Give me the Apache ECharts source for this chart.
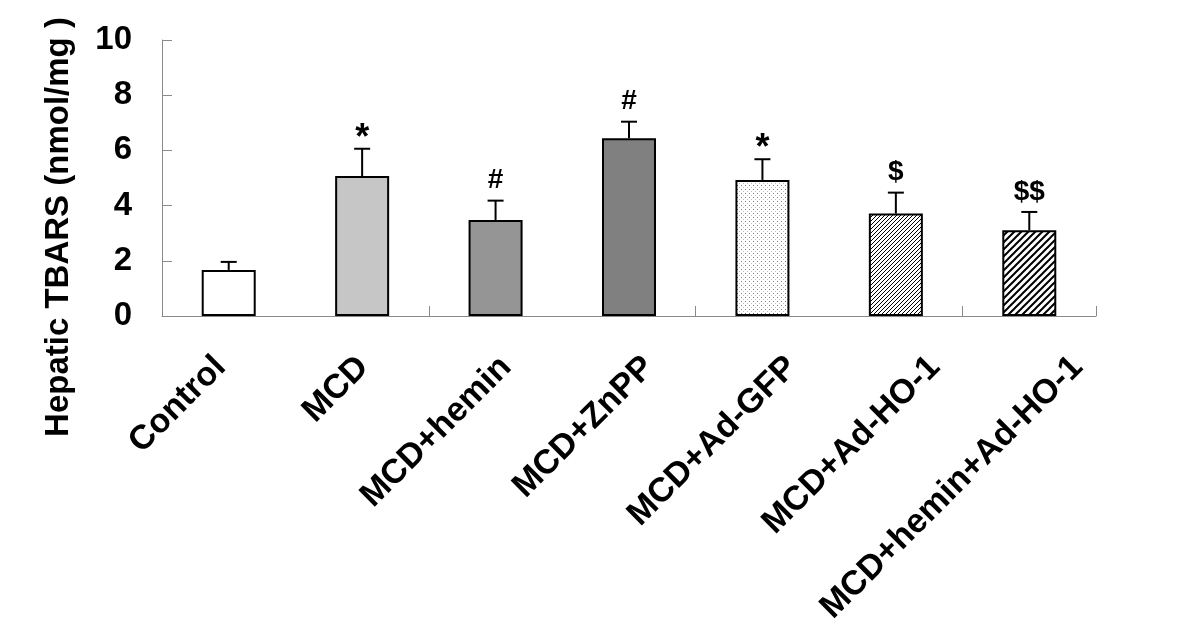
<!DOCTYPE html>
<html>
<head>
<meta charset="utf-8">
<script src="https://cdn.jsdelivr.net/npm/echarts@6/dist/echarts.min.js"></script>
<style>
  html, body { margin: 0; padding: 0; background: #fff; }
  #chart { width: 1200px; height: 640px; }
</style>
</head>
<body>
<div id="chart"></div>
<script>
// ---- data ----
const categories = ['Control', 'MCD', 'MCD+hemin', 'MCD+ZnPP', 'MCD+Ad-GFP', 'MCD+Ad-HO-1', 'MCD+hemin+Ad-HO-1'];
const means = [1.67, 5.07, 3.48, 6.44, 4.93, 3.71, 3.11];
const errors = [0.29, 0.99, 0.70, 0.60, 0.75, 0.76, 0.66];
const marks = ['', '*', '#', '#', '*', '$', '$$'];
const yMin = 0, yMax = 10, yStep = 2;
const yName = 'Hepatic TBARS (nmol/mg )';

// ---- patterns ----
function dotPattern() {
  const c = document.createElement('canvas');
  c.width = 4; c.height = 4;
  const g = c.getContext('2d');
  g.fillStyle = '#ffffff'; g.fillRect(0, 0, 4, 4);
  g.fillStyle = '#7a7a7a'; g.fillRect(1, 1, 1, 1);
  g.fillStyle = '#bdbdbd'; g.fillRect(3, 3, 1, 1);
  return { image: c, repeat: 'repeat' };
}
function hatchPattern(size, lw) {
  const c = document.createElement('canvas');
  c.width = size; c.height = size;
  const g = c.getContext('2d');
  g.fillStyle = '#ffffff'; g.fillRect(0, 0, size, size);
  g.strokeStyle = '#000000'; g.lineWidth = lw;
  g.beginPath();
  g.moveTo(-1, 1); g.lineTo(1, -1);
  g.moveTo(0, size); g.lineTo(size, 0);
  g.moveTo(size - 1, size + 1); g.lineTo(size + 1, size - 1);
  g.stroke();
  return { image: c, repeat: 'repeat' };
}
const fills = ['#ffffff', '#c6c6c6', '#959595', '#808080', dotPattern(), hatchPattern(4, 1), hatchPattern(7, 2)];

const FONT = "'Liberation Sans', Arial, Helvetica, sans-serif";
const axisGray = '#8a8a8a';

const chart = echarts.init(document.getElementById('chart'));
chart.setOption({
  animation: false,
  backgroundColor: '#ffffff',
  grid: [
    { left: 162, right: 104, top: 40, bottom: 324 },
    { left: 149, right: 51, top: 40, bottom: 324 }
  ],
  xAxis: [
    {
      type: 'category', gridIndex: 0, data: categories,
      axisLine: { lineStyle: { color: axisGray, width: 1 } },
      axisTick: { show: true, inside: true, length: 10, lineStyle: { color: axisGray } },
      axisLabel: { show: false }
    },
    {
      type: 'category', gridIndex: 1, data: categories,
      axisLine: { show: false },
      axisTick: { show: false },
      axisLabel: {
        show: true, interval: 0, rotate: 45, margin: 46,
        fontFamily: FONT, fontWeight: 'bold', fontSize: 34, color: '#000'
      }
    }
  ],
  yAxis: [
    {
      type: 'value', gridIndex: 0, min: yMin, max: yMax, interval: yStep,
      axisLine: { show: true, lineStyle: { color: axisGray, width: 1 } },
      axisTick: { show: true, inside: true, length: 10, lineStyle: { color: axisGray } },
      splitLine: { show: false },
      axisLabel: { margin: 30, fontFamily: FONT, fontWeight: 'bold', fontSize: 33, color: '#000' }
    },
    { type: 'value', gridIndex: 1, min: yMin, max: yMax, show: false }
  ],
  graphic: [
    {
      type: 'text', x: 59, y: 227, rotation: Math.PI / 2,
      style: {
        text: yName, fill: '#000', font: 'bold 33px ' + FONT,
        textAlign: 'center', textVerticalAlign: 'middle'
      }
    }
  ],
  series: [
    {
      type: 'bar', xAxisIndex: 0, yAxisIndex: 0, barWidth: 54,
      data: means.map((v, i) => ({ value: v, itemStyle: { color: fills[i] } })),
      itemStyle: { borderColor: '#000', borderWidth: 2 },
      z: 2
    },
    {
      type: 'custom', xAxisIndex: 0, yAxisIndex: 0, z: 3,
      data: categories.map((c, i) => [i, means[i], errors[i]]),
      renderItem: function (params, api) {
        const idx = api.value(0);
        const m = api.value(1);
        const e = api.value(2);
        const base = api.coord([idx, m]);
        const top = api.coord([idx, m + e]);
        const half = 8;
        const style = { stroke: '#000', lineWidth: 2 };
        const mk = marks[params.dataIndex];
        const star = mk.indexOf('*') >= 0;
        return {
          type: 'group',
          children: [
            { type: 'line', shape: { x1: top[0], y1: base[1], x2: top[0], y2: top[1] }, style: style },
            { type: 'line', shape: { x1: top[0] - half, y1: top[1], x2: top[0] + half, y2: top[1] }, style: style },
            {
              type: 'text', x: top[0], y: top[1] - (star ? 10 : 20),
              style: {
                text: mk, fill: '#000',
                font: 'bold ' + (star ? 36 : 28) + 'px ' + FONT,
                textAlign: 'center', textVerticalAlign: 'middle'
              }
            }
          ]
        };
      }
    }
  ]
});
</script>
</body>
</html>
